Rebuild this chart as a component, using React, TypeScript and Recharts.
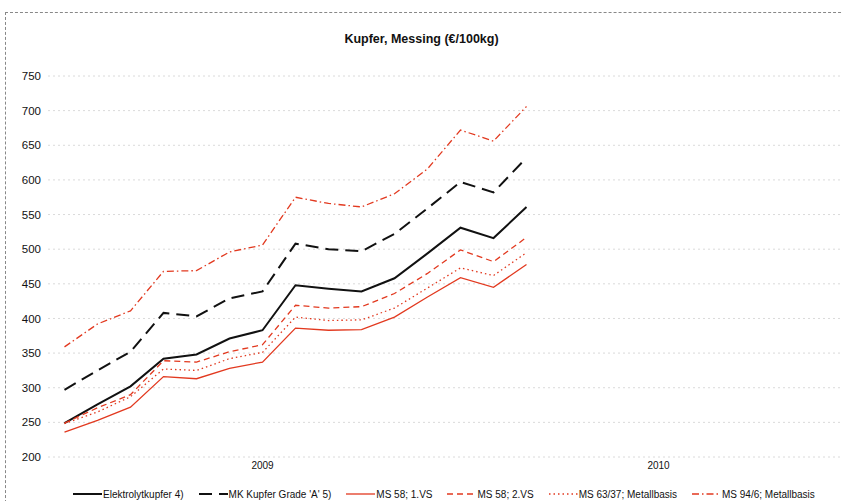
import { LineChart, Line, XAxis, YAxis, CartesianGrid, Legend } from 'recharts'

const months = [
  'Jan 09', 'Feb 09', 'Mär 09', 'Apr 09', 'Mai 09', 'Jun 09', 'Jul 09', 'Aug 09', 'Sep 09', 'Okt 09', 'Nov 09', 'Dez 09',
  'Jan 10', 'Feb 10', 'Mär 10', 'Apr 10', 'Mai 10', 'Jun 10', 'Jul 10', 'Aug 10', 'Sep 10', 'Okt 10', 'Nov 10', 'Dez 10',
]
const yearTicks = ['', '', '', '', '', '', '2009', '', '', '', '', '', '', '', '', '', '', '', '2010', '', '', '', '', '']
const yTicks = [200, 250, 300, 350, 400, 450, 500, 550, 600, 650, 700, 750]

const elektrolytkupfer = [249, 276, 302, 342, 348, 371, 383, 448, 443, 439, 458, 494, 531, 516, 561]
const mkKupfer = [297, 325, 352, 408, 403, 429, 439, 508, 500, 497, 522, 559, 597, 582, 632]
const ms58First = [236, 253, 272, 316, 313, 328, 337, 386, 383, 384, 402, 431, 459, 445, 478]
const ms58Second = [249, 271, 290, 339, 337, 352, 362, 419, 415, 417, 436, 465, 499, 482, 517]
const ms6337 = [248, 265, 287, 327, 325, 342, 351, 402, 397, 398, 415, 444, 473, 462, 495]
const ms946 = [359, 392, 411, 468, 469, 496, 506, 575, 566, 561, 580, 616, 672, 656, 706]

const RED = '#e2391f'
const FONT = "'Liberation Sans', Arial, sans-serif"

const series = [
  { key: 'elektro', name: 'Elektrolytkupfer 4)', color: '#111', width: 2, dash: undefined },
  { key: 'mk', name: "MK Kupfer Grade 'A' 5)", color: '#111', width: 2, dash: '13 7' },
  { key: 'ms58a', name: 'MS 58; 1.VS', color: RED, width: 1.3, dash: undefined },
  { key: 'ms58b', name: 'MS 58; 2.VS', color: RED, width: 1.3, dash: '6 4' },
  { key: 'ms63', name: 'MS 63/37; Metallbasis', color: RED, width: 1.3, dash: '1.5 3' },
  { key: 'ms94', name: 'MS 94/6; Metallbasis', color: RED, width: 1.3, dash: '7 3 1.5 3' },
]

const data = months.map((m, i) => ({
  month: m,
  elektro: elektrolytkupfer[i] ?? null,
  mk: mkKupfer[i] ?? null,
  ms58a: ms58First[i] ?? null,
  ms58b: ms58Second[i] ?? null,
  ms63: ms6337[i] ?? null,
  ms94: ms946[i] ?? null,
}))

const renderLegend = () => (
  <div style={{ display: 'flex', alignItems: 'center', paddingLeft: 73, fontFamily: FONT, fontSize: 10, color: '#111', height: 14 }}>
    {series.map(s => (
      <div key={s.key} style={{ display: 'flex', alignItems: 'center', marginRight: 15 }}>
        <svg width={29} height={10} style={{ marginRight: 1 }}>
          <line x1={0} y1={5} x2={29} y2={5} stroke={s.color} strokeWidth={s.width} strokeDasharray={s.dash} />
        </svg>
        <span style={{ whiteSpace: 'nowrap' }}>{s.name}</span>
      </div>
    ))}
  </div>
)

export default function App() {
  return (
    <div style={{ position: 'absolute', left: 0, top: 0, width: 843, height: 501, background: '#fff', overflow: 'hidden' }}>
      <div style={{ position: 'absolute', left: 5, top: 12, width: 850, height: 500, borderLeft: '1px dashed #888', borderTop: '1px dashed #888' }} />
      <div style={{ position: 'absolute', left: 0, top: 32, width: 843, textAlign: 'center', fontFamily: FONT, fontSize: 12.5, fontWeight: 'bold', color: '#111' }}>
        Kupfer, Messing (€/100kg)
      </div>
      <LineChart width={843} height={501} data={data} margin={{ top: 76, right: 3, left: 8, bottom: 8 }}>
        <CartesianGrid vertical={false} stroke="#dadada" strokeDasharray="2 3" />
        <XAxis
          dataKey="month"
          interval={0}
          tickLine={false}
          axisLine={false}
          tickSize={4}
          tickMargin={1}
          height={22}
          padding={{ left: 16.5, right: 16.5 }}
          tickFormatter={(_v: string, i: number) => yearTicks[i]}
          tick={{ fontSize: 10, fill: '#111', fontFamily: FONT }}
        />
        <YAxis
          domain={[200, 750]}
          ticks={yTicks}
          width={40}
          tickLine={false}
          axisLine={false}
          tickMargin={1}
          tick={{ fontSize: 11.5, fill: '#111', fontFamily: FONT }}
        />
        <Legend verticalAlign="bottom" content={renderLegend} wrapperStyle={{ left: 0, bottom: 0, width: 843, height: 14 }} />
        {series.map(s => (
          <Line
            key={s.key}
            type="linear"
            dataKey={s.key}
            name={s.name}
            stroke={s.color}
            strokeWidth={s.width}
            strokeDasharray={s.dash}
            dot={false}
            activeDot={false}
            isAnimationActive={false}
          />
        ))}
      </LineChart>
    </div>
  )
}
